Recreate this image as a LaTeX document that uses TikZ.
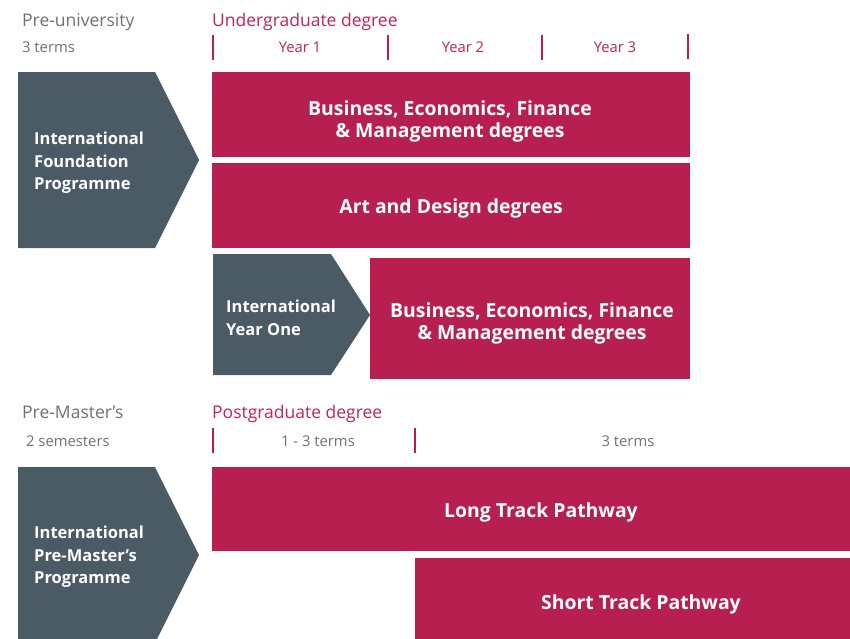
\documentclass[tikz,border=0pt]{standalone}
\usepackage{fontspec}
\setmainfont{Open Sans}
\definecolor{crim}{HTML}{B71F50}
\definecolor{crimtxt}{HTML}{C0245A}
\definecolor{slate}{HTML}{4B5B66}
\definecolor{greytxt}{HTML}{707070}
\begin{document}
\begin{tikzpicture}[x=1pt,y=-1pt,
  head/.style={anchor=base west,inner sep=0pt,font=\fontsize{17.5}{20}\selectfont},
  sub/.style={inner sep=0pt,font=\fontsize{14.8}{16}\selectfont},
  tick/.style={draw=crim,line width=2pt},
  block/.style={fill=crim},
  arrowshape/.style={fill=slate},
  wtxt/.style={inner sep=0pt,text=white,font=\bfseries\fontsize{16.5}{22.5}\selectfont},
  btxt/.style={inner sep=0pt,text=white,font=\bfseries\fontsize{19.4}{22}\selectfont},
]
\useasboundingbox (0,0) rectangle (850,638);
\clip (0,0) rectangle (850,638);

% ---------- headings top ----------
\node[head,text=greytxt] (preuni) at (22,26) {Pre-university};
\node[sub,text=greytxt,anchor=base west] (terms3) at (22,52) {3 terms};
\node[head,text=crimtxt] (ugd) at (212,26) {Undergraduate degree};

\coordinate (t1a) at (213,35); \coordinate (t1b) at (213,60);
\coordinate (t2a) at (388,35); \coordinate (t2b) at (388,60);
\coordinate (t3a) at (542,35); \coordinate (t3b) at (542,60);
\coordinate (t4a) at (688,34); \coordinate (t4b) at (688,59);
\draw[tick] (t1a) -- (t1b);
\draw[tick] (t2a) -- (t2b);
\draw[tick] (t3a) -- (t3b);
\draw[tick] (t4a) -- (t4b);
\node[sub,text=crimtxt,anchor=base] (y1) at (300,52) {Year 1};
\node[sub,text=crimtxt,anchor=base] (y2) at (463,52) {Year 2};
\node[sub,text=crimtxt,anchor=base] (y3) at (615,52) {Year 3};

% ---------- foundation ----------
\fill[arrowshape] (18,72) -- (155,72) -- (199,160) -- (155,248) -- (18,248) -- cycle;
\node[wtxt,anchor=west,align=left] (ifp) at (34,163) {International\\Foundation\\Programme};

\fill[block] (212,72) rectangle (690,157);
\node[btxt,align=center] (bef1) at (450,121) {Business, Economics, Finance\\\& Management degrees};
\fill[block] (212,163) rectangle (690,248);
\node[btxt] (art) at (451,208) {Art and Design degrees};

% ---------- year one ----------
\fill[arrowshape] (213,254) -- (331,254) -- (370,315) -- (331,375) -- (213,375) -- cycle;
\node[wtxt,anchor=west,align=left] (iyo) at (226,318) {International\\Year One};
\fill[block] (370,258) rectangle (690,379);
\node[btxt,align=center] (bef2) at (532,323) {Business, Economics, Finance\\\& Management degrees};

% ---------- postgraduate ----------
\node[head,text=greytxt] (prem) at (22,418) {Pre-Master’s};
\node[sub,text=greytxt,anchor=base west] (sem2) at (26,446) {2 semesters};
\node[head,text=crimtxt] (pgd) at (212,418) {Postgraduate degree};
\coordinate (p1a) at (213,428); \coordinate (p1b) at (213,453);
\coordinate (p2a) at (415,428); \coordinate (p2b) at (415,453);
\draw[tick] (p1a) -- (p1b);
\draw[tick] (p2a) -- (p2b);
\node[sub,text=greytxt,anchor=base] (t13) at (318,446) {1 - 3 terms};
\node[sub,text=greytxt,anchor=base] (t3) at (628,446) {3 terms};

\fill[arrowshape] (18,467) -- (155,467) -- (199,555) -- (155,643) -- (18,643) -- cycle;
\node[wtxt,anchor=west,align=left] (ipm) at (34,557) {International\\Pre-Master’s\\Programme};

\fill[block] (212,467) rectangle (850,551);
\node[btxt] (ltp) at (541,512) {Long Track Pathway};
\fill[block] (415,558) rectangle (850,643);
\node[btxt] (stp) at (641,604) {Short Track Pathway};
\end{tikzpicture}
\end{document}
